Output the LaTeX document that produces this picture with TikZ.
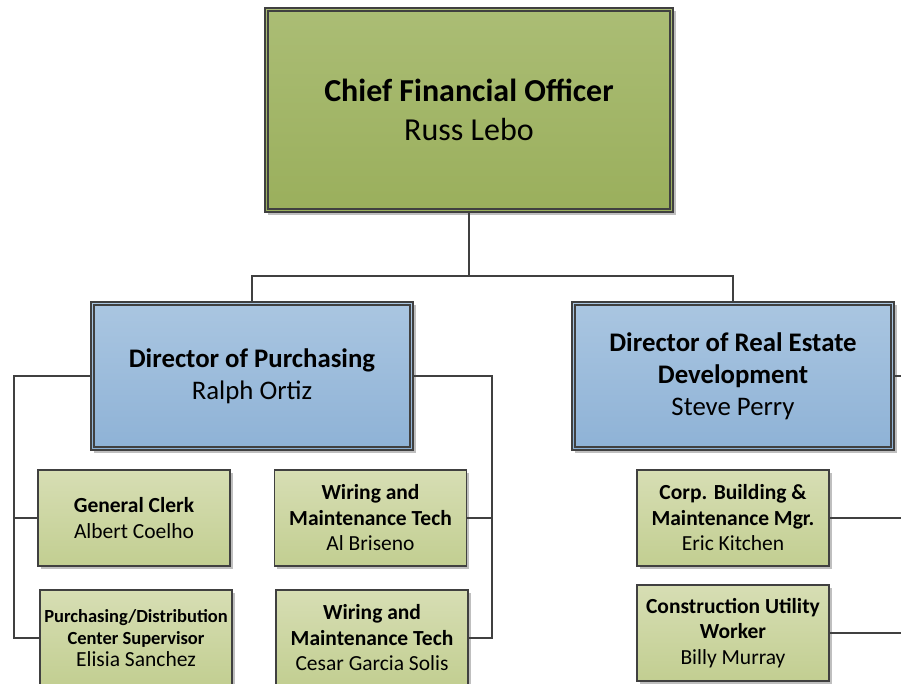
\documentclass[tikz,border=0pt]{standalone}
\usepackage{fontspec}
\setmainfont{Carlito}
\usetikzlibrary{shadows}
\definecolor{cfotop}{RGB}{171,189,117}
\definecolor{cfobot}{RGB}{154,175,92}
\definecolor{bluetop}{RGB}{170,198,225}
\definecolor{bluebot}{RGB}{142,178,214}
\definecolor{ltop}{RGB}{215,222,180}
\definecolor{lbot}{RGB}{194,206,145}
\definecolor{edge}{RGB}{64,64,64}
\tikzset{
  boxbase/.style={draw=edge, align=center, inner sep=0pt, text=black,
    drop shadow={shadow xshift=2.5pt, shadow yshift=-2.5pt, opacity=0.25, fill=black}},
  cfobox/.style={boxbase, line width=2.2pt, top color=cfotop, bottom color=cfobot,
    minimum width=408pt, minimum height=204pt, font=\fontsize{32}{39}\selectfont},
  dirbox/.style={boxbase, line width=2.2pt, top color=bluetop, bottom color=bluebot,
    minimum width=322pt, minimum height=148pt, font=\fontsize{26.8}{32}\selectfont},
  staffbox/.style={boxbase, line width=1.8pt, top color=ltop, bottom color=lbot,
    minimum width=192pt, minimum height=96pt, font=\fontsize{21.5}{25.5}\selectfont},
  inner/.style={draw=edge, line width=1.4pt},
  link/.style={draw=edge, line width=2.4pt}
}
\begin{document}
\begin{tikzpicture}[x=1pt,y=1pt]
\useasboundingbox (0,0) rectangle (901,-683);
\clip (0,0) rectangle (901,-683);
\fill[white] (0,0) rectangle (901,-683);

% connectors
\coordinate (bus) at (469,-276);
\coordinate (lbus) at (14,-376);
\coordinate (rbus) at (492,-376);
\coordinate (reout) at (910,-376);
\coordinate (cbout) at (910,-518);
\coordinate (cuout) at (910,-633);

\node[cfobox] (cfo) at (469,-110) {\textbf{Chief Financial Officer}\\Russ Lebo};
\node[dirbox] (dop) at (252,-376) {\textbf{Director of Purchasing}\\Ralph Ortiz};
\node[dirbox] (dre) at (733,-376) {\textbf{Director of Real Estate}\\\textbf{Development}\\Steve Perry};

\node[staffbox] (gc) at (134,-518) {\textbf{General Clerk}\\Albert Coelho};
\node[staffbox] (w1) at (370.5,-518) {\textbf{Wiring and}\\\textbf{Maintenance Tech}\\Al Briseno};
\node[staffbox, font=\fontsize{18.5}{22}\selectfont] (pd) at (136,-638) {\textbf{Purchasing/Distribution}\\\textbf{Center Supervisor}\\{\fontsize{21.5}{24}\selectfont Elisia Sanchez}};
\node[staffbox] (w2) at (372,-638) {\textbf{Wiring and}\\\textbf{Maintenance Tech}\\Cesar Garcia Solis};
\node[staffbox] (cb) at (733,-518) {\textbf{Corp. Building \&}\\\textbf{Maintenance Mgr.}\\Eric Kitchen};
\node[staffbox] (cu) at (733,-633) {\textbf{Construction Utility}\\\textbf{Worker}\\Billy Murray};

% inner frames of double borders
\draw[inner] ([shift={(4,-4)}]cfo.north west) rectangle ([shift={(-4,4)}]cfo.south east);
\draw[inner] ([shift={(4,-4)}]dop.north west) rectangle ([shift={(-4,4)}]dop.south east);
\draw[inner] ([shift={(4,-4)}]dre.north west) rectangle ([shift={(-4,4)}]dre.south east);

\draw[link] (cfo.south) -- (bus);
\draw[link] (dop.north) |- (bus) -| (dre.north);
\draw[link] (dop.west) -- (lbus) |- (pd.west);
\draw[link] (lbus) |- (gc.west);
\draw[link] (dop.east) -- (rbus) |- (w2.east);
\draw[link] (rbus) |- (w1.east);
\draw[link] (dre.east) -- (reout);
\draw[link] (cb.east) -- (cbout);
\draw[link] (cu.east) -- (cuout);
\end{tikzpicture}
\end{document}
